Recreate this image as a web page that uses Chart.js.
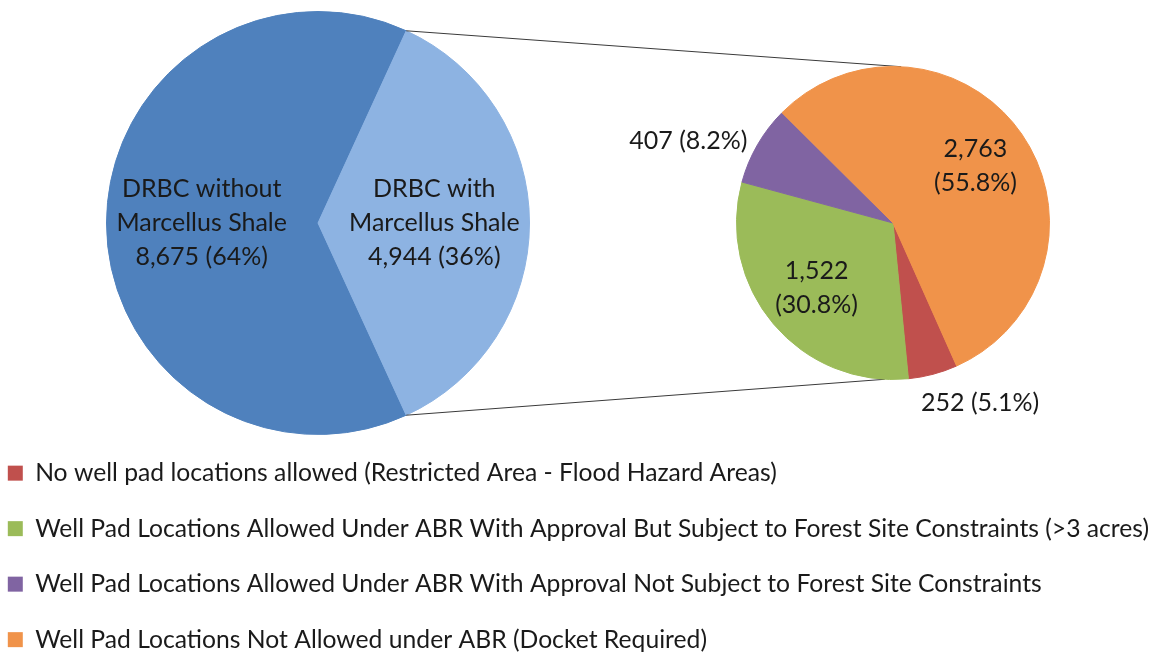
<!DOCTYPE html>
<html>
<head>
<meta charset="utf-8">
<script src="https://cdn.jsdelivr.net/npm/chart.js@4.4.0/dist/chart.umd.min.js"></script>
<style>
  html, body { margin: 0; padding: 0; background: #fff; overflow: hidden; }
  #wrap { position: relative; width: 1159px; height: 652px; overflow: hidden; }
  #wrap canvas { position: absolute; left: 0; top: 0; }
  /* legend canvas: its bottom half holds the legend, starting at y = 430 on the page */
  #legendBox { left: -23px !important; top: 198px !important; }
</style>
</head>
<body>
<div id="wrap">
  <canvas id="mainPie" width="1159" height="652"></canvas>
  <canvas id="detailPie" width="1159" height="652"></canvas>
  <canvas id="legendBox" width="1182" height="464"></canvas>
</div>
<script>
// big pie: whole DRBC area
const mainLabels = [["DRBC without", "Marcellus Shale"], ["DRBC with", "Marcellus Shale"]];
const mainValues = [8675, 4944];
const mainPercents = [64, 36];
const mainColors = ["#4F81BD", "#8DB3E2"];

// small pie: break-down of the Marcellus Shale part
const detailLabels = [
  "No well pad locations allowed (Restricted Area - Flood Hazard Areas)",
  "Well Pad Locations Allowed Under ABR With Approval But Subject to Forest Site Constraints (>3 acres)",
  "Well Pad Locations Allowed Under ABR With Approval Not Subject to Forest Site Constraints",
  "Well Pad Locations Not Allowed under ABR (Docket Required)"
];
const detailValues = [252, 1522, 407, 2763];
const detailPercents = [5.1, 30.8, 8.2, 55.8];
const detailColors = ["#C0504D", "#9BBB59", "#8064A2", "#F0934A"];

const FONT = "Lato, 'Open Sans', sans-serif";
const TEXT = "#1a1a1a";
Chart.defaults.font.family = FONT;
Chart.defaults.animation = false;

const fmt = (v) => v.toLocaleString("en-US");

// value labels, inside the slice or beside it for the small ones
const sliceLabels = {
  id: "sliceLabels",
  afterDatasetsDraw(chart, args, opts) {
    const ctx = chart.ctx;
    const arcs = chart.getDatasetMeta(0).data;
    ctx.save();
    ctx.font = opts.size + "px " + FONT;
    ctx.fillStyle = TEXT;
    ctx.textBaseline = "middle";
    arcs.forEach((arc, i) => {
      const { x, y, startAngle, endAngle, outerRadius } =
        arc.getProps(["x", "y", "startAngle", "endAngle", "outerRadius"], true);
      const mid = (startAngle + endAngle) / 2;
      const dx = Math.cos(mid), dy = Math.sin(mid);
      const lines = opts.lines(i);
      const share = (endAngle - startAngle) / (2 * Math.PI);
      if (share >= opts.outsideBelow) {
        const px = x + dx * outerRadius * opts.inside;
        const py = y + dy * outerRadius * opts.inside;
        ctx.textAlign = "center";
        lines.forEach((t, k) =>
          ctx.fillText(t, px, py + (k - (lines.length - 1) / 2) * opts.lineHeight));
      } else {
        const ex = x + dx * outerRadius, ey = y + dy * outerRadius;
        const t = lines.join(" ");
        if (Math.abs(dx) >= 0.5) {
          ctx.textAlign = dx < 0 ? "right" : "left";
          ctx.fillText(t, ex + Math.sign(dx) * 10, ey + dy * 8);
        } else {
          ctx.textAlign = "left";
          ctx.fillText(t, ex - 12, ey + dy * (opts.size / 2 + 17));
        }
      }
    });
    ctx.restore();
  }
};

const mainChart = new Chart(document.getElementById("mainPie"), {
  type: "pie",
  plugins: [sliceLabels],
  data: {
    labels: mainLabels,
    datasets: [{
      data: mainValues,
      backgroundColor: mainColors,
      borderColor: mainColors,
      borderWidth: 1
    }]
  },
  options: {
    responsive: false,
    events: [],
    // light slice centred on the right-hand side
    rotation: 90 + 180 * mainValues[1] / (mainValues[0] + mainValues[1]),
    layout: { padding: { left: 106, right: 629, top: 11, bottom: 217 } },
    plugins: {
      tooltip: { enabled: false },
      legend: { display: false },
      sliceLabels: {
        size: 25,
        lineHeight: 34,
        inside: 0.55,
        outsideBelow: 0,
        lines: (i) => [...mainLabels[i], fmt(mainValues[i]) + " (" + mainPercents[i] + "%)"]
      }
    }
  }
});

// the two lines joining the big pie's slice to the small pie
const connectors = {
  id: "connectors",
  beforeDatasetsDraw(chart) {
    const ctx = chart.ctx;
    const a = mainChart.getDatasetMeta(0).data[1]
      .getProps(["x", "y", "startAngle", "endAngle", "outerRadius"], true);
    const b = chart.getDatasetMeta(0).data[0].getProps(["x", "y", "outerRadius"], true);
    const rad = (deg) => (deg - 90) * Math.PI / 180;
    const ends = [[a.startAngle, rad(3)], [a.endAngle, rad(183)]];
    ctx.save();
    ctx.strokeStyle = "#3a3a3a";
    ctx.lineWidth = 1;
    ends.forEach(([s, e]) => {
      ctx.beginPath();
      ctx.moveTo(a.x + a.outerRadius * Math.cos(s), a.y + a.outerRadius * Math.sin(s));
      ctx.lineTo(b.x + b.outerRadius * Math.cos(e), b.y + b.outerRadius * Math.sin(e));
      ctx.stroke();
    });
    ctx.restore();
  }
};

new Chart(document.getElementById("detailPie"), {
  type: "pie",
  plugins: [connectors, sliceLabels],
  data: {
    labels: detailLabels,
    datasets: [{
      data: detailValues,
      backgroundColor: detailColors,
      borderColor: detailColors,
      borderWidth: 1
    }]
  },
  options: {
    responsive: false,
    events: [],
    rotation: 156,
    layout: { padding: { left: 736, right: 109, top: 66, bottom: 272 } },
    plugins: {
      legend: { display: false },
      tooltip: { enabled: false },
      sliceLabels: {
        size: 25,
        lineHeight: 34,
        inside: 0.64,
        outsideBelow: 0.1,
        lines: (i) => [fmt(detailValues[i]), "(" + detailPercents[i] + "%)"]
      }
    }
  }
});

// legend of the small pie, full width under both pies (its own pie has radius 0)
new Chart(document.getElementById("legendBox"), {
  type: "pie",
  data: {
    labels: detailLabels,
    datasets: [{ data: detailValues, backgroundColor: detailColors, borderWidth: 0, radius: 0 }]
  },
  options: {
    responsive: false,
    events: [],
    plugins: {
      tooltip: { enabled: false },
      legend: {
        position: "bottom",
        align: "start",
        labels: {
          color: TEXT,
          font: { size: 24.7 },
          boxWidth: 15,
          boxHeight: 15,
          padding: 30.8
        }
      }
    }
  }
});
</script>
</body>
</html>
